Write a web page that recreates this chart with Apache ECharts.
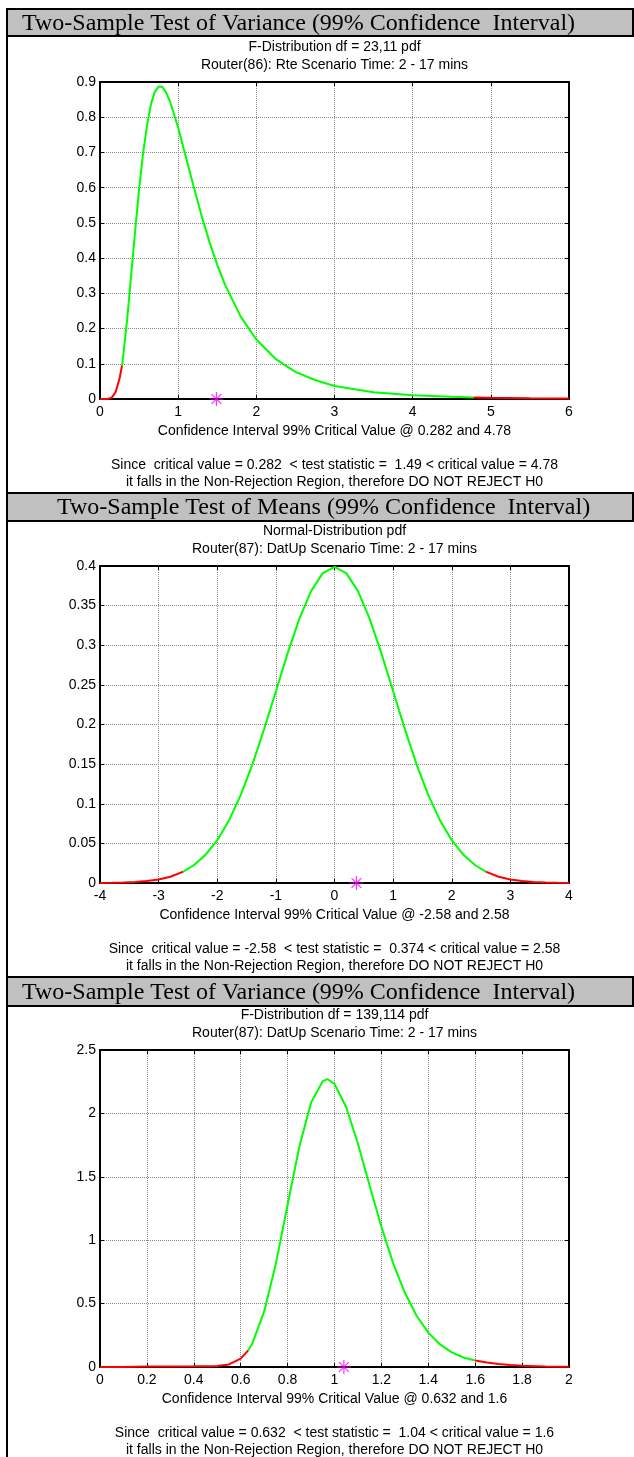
<!DOCTYPE html>
<html>
<head>
<meta charset="utf-8">
<script src="https://cdn.jsdelivr.net/npm/echarts@6/dist/echarts.min.js"></script>
<style>
  html, body { margin: 0; padding: 0; background: #ffffff; }
  #chart { width: 634px; height: 1457px; }
</style>
</head>
<body>
<div id="chart"></div>
<script>
// ---- Texts ----
const headTitles = [
  'Two-Sample Test of Variance (99% Confidence  Interval)',
  'Two-Sample Test of Means (99% Confidence  Interval)',
  'Two-Sample Test of Variance (99% Confidence  Interval)'
];
const subTitles1 = ['F-Distribution df = 23,11 pdf', 'Router(86): Rte Scenario Time: 2 - 17 mins'];
const subTitles2 = ['Normal-Distribution pdf', 'Router(87): DatUp Scenario Time: 2 - 17 mins'];
const subTitles3 = ['F-Distribution df = 139,114 pdf', 'Router(87): DatUp Scenario Time: 2 - 17 mins'];
const xLabels = [
  'Confidence Interval 99% Critical Value @ 0.282 and 4.78',
  'Confidence Interval 99% Critical Value @ -2.58 and 2.58',
  'Confidence Interval 99% Critical Value @ 0.632 and 1.6'
];
const verdict1 = ['Since  critical value = 0.282  < test statistic =  1.49 < critical value = 4.78',
                  'it falls in the Non-Rejection Region, therefore DO NOT REJECT H0'];
const verdict2 = ['Since  critical value = -2.58  < test statistic =  0.374 < critical value = 2.58',
                  'it falls in the Non-Rejection Region, therefore DO NOT REJECT H0'];
const verdict3 = ['Since  critical value = 0.632  < test statistic =  1.04 < critical value = 1.6',
                  'it falls in the Non-Rejection Region, therefore DO NOT REJECT H0'];

// ---- Panel 1: F pdf, df = 23,11 ----
const fX1 = [0, 0.1, 0.15, 0.2, 0.25, 0.282, 0.3, 0.35, 0.4, 0.45, 0.5, 0.55, 0.6, 0.65, 0.7, 0.75,
             0.8, 0.85, 0.9, 1.0, 1.1, 1.2, 1.3, 1.4, 1.5, 1.6, 1.8, 2.0, 2.25, 2.5, 2.75, 3.0, 3.5,
             4.0, 4.5, 4.78, 5.0, 5.5, 6.0];
const fY1 = [0, 0.0002, 0.004, 0.02, 0.058, 0.095, 0.128, 0.232, 0.355, 0.478, 0.595, 0.695, 0.775,
             0.835, 0.872, 0.887, 0.886, 0.868, 0.842, 0.77, 0.686, 0.602, 0.52, 0.446, 0.381, 0.324,
             0.234, 0.169, 0.113, 0.077, 0.054, 0.037, 0.019, 0.0104, 0.0062, 0.0046, 0.0036, 0.0023, 0.0015];
const crit1 = [0.282, 4.78];
const stat1 = 1.49;

// ---- Panel 2: normal pdf ----
const nX2 = [-4, -3.8, -3.6, -3.4, -3.2, -3, -2.8, -2.58, -2.4, -2.2, -2, -1.8, -1.6, -1.4, -1.2, -1,
             -0.8, -0.6, -0.4, -0.2, 0, 0.2, 0.4, 0.6, 0.8, 1, 1.2, 1.4, 1.6, 1.8, 2, 2.2, 2.4, 2.58,
             2.8, 3, 3.2, 3.4, 3.6, 3.8, 4];
const nY2 = [0.0001, 0.0003, 0.0006, 0.0012, 0.0024, 0.0044, 0.0079, 0.0143, 0.0224, 0.0355, 0.054,
             0.079, 0.1109, 0.1497, 0.1942, 0.242, 0.2897, 0.3332, 0.3683, 0.391, 0.3989, 0.391, 0.3683,
             0.3332, 0.2897, 0.242, 0.1942, 0.1497, 0.1109, 0.079, 0.054, 0.0355, 0.0224, 0.0143,
             0.0079, 0.0044, 0.0024, 0.0012, 0.0006, 0.0003, 0.0001];
const crit2 = [-2.58, 2.58];
const stat2 = 0.374;

// ---- Panel 3: F pdf, df = 139,114 ----
const fX3 = [0, 0.1, 0.2, 0.3, 0.4, 0.45, 0.5, 0.55, 0.6, 0.632, 0.65, 0.7, 0.75, 0.8, 0.85, 0.9, 0.95,
             0.97, 1.0, 1.05, 1.1, 1.15, 1.2, 1.25, 1.3, 1.35, 1.4, 1.45, 1.5, 1.55, 1.6, 1.65, 1.7,
             1.75, 1.8, 1.9, 2.0];
const fY3 = [0, 0, 0.003, 0.004, 0.005, 0.006, 0.008, 0.02, 0.066, 0.131, 0.188, 0.436, 0.815, 1.28,
             1.737, 2.085, 2.255, 2.27, 2.232, 2.048, 1.761, 1.43, 1.106, 0.819, 0.585, 0.404, 0.271,
             0.178, 0.115, 0.075, 0.052, 0.036, 0.024, 0.015, 0.009, 0.004, 0.002];
const crit3 = [0.632, 1.6];
const stat3 = 1.04;

// axis ranges: [min, max, step]
const xRange = [[0, 6, 1], [-4, 4, 1], [0, 2, 0.2]];
const yRange = [[0, 0.9, 0.1], [0, 0.4, 0.05], [0, 2.5, 0.5]];

const SANS = '"Liberation Sans", Arial, Helvetica, sans-serif';
const SERIF = '"Liberation Serif", "Times New Roman", serif';
const GREEN = '#00ff00', RED = '#ff0000', MAGENTA = '#ff00ff';

// layout
const panelTop = [9, 493, 977];
const headH = [27, 28, 29];
const headX = [22, 57, 22];
const plotLeft = 100, plotW = 469, plotOffset = 73, plotH = 317;
const plotCx = plotLeft + plotW / 2;

const panels = [
  { x: fX1, y: fY1, crit: crit1, stat: stat1, sub: subTitles1, verdict: verdict1 },
  { x: nX2, y: nY2, crit: crit2, stat: stat2, sub: subTitles2, verdict: verdict2 },
  { x: fX3, y: fY3, crit: crit3, stat: stat3, sub: subTitles3, verdict: verdict3 }
];

function pairs(xs, ys, keep) {
  const out = [];
  for (let i = 0; i < xs.length; i++) if (keep(xs[i])) out.push([xs[i], ys[i]]);
  return out;
}

const grids = [], xAxes = [], yAxes = [], series = [], graphics = [];

// left frame line of the sheet
graphics.push({ type: 'line', shape: { x1: 7, y1: 9, x2: 7, y2: 1457 },
  style: { stroke: '#000', lineWidth: 2 }, z: 10 });

panels.forEach((p, i) => {
  const H = panelTop[i];
  const top = H + plotOffset;
  const zeroY = top + plotH;
  grids.push({ left: plotLeft, top: top, width: plotW, height: plotH, containLabel: false });

  const [xmin, xmax, xint] = xRange[i];
  const [ymin, ymax, yint] = yRange[i];
  const lineStyle = { color: '#000', width: 2 };
  const tick = { show: true, inside: true, length: 4, lineStyle: { color: '#000', width: 1 } };
  const grid = { show: true, lineStyle: { color: '#8a8a8a', type: 'dotted', width: 1 } };
  const lbl = { color: '#000', fontSize: 14, fontFamily: SANS };

  xAxes.push({ gridIndex: i, type: 'value', min: xmin, max: xmax, interval: xint, position: 'bottom',
    axisLine: { show: true, onZero: false, lineStyle }, axisTick: tick,
    axisLabel: Object.assign({ margin: 6 }, lbl), splitLine: grid });
  xAxes.push({ gridIndex: i, type: 'value', min: xmin, max: xmax, interval: xint, position: 'top',
    axisLine: { show: true, onZero: false, lineStyle }, axisTick: tick,
    axisLabel: { show: false }, splitLine: { show: false } });
  yAxes.push({ gridIndex: i, type: 'value', min: ymin, max: ymax, interval: yint, position: 'left',
    axisLine: { show: true, onZero: false, lineStyle }, axisTick: tick,
    axisLabel: Object.assign({ margin: 4 }, lbl), splitLine: grid });
  yAxes.push({ gridIndex: i, type: 'value', min: ymin, max: ymax, interval: yint, position: 'right',
    axisLine: { show: true, onZero: false, lineStyle }, axisTick: tick,
    axisLabel: { show: false }, splitLine: { show: false } });

  const xi = i * 2, yi = i * 2;
  const [lo, hi] = p.crit;
  const seg = (data, color) => ({
    type: 'line', xAxisIndex: xi, yAxisIndex: yi, data, showSymbol: false, smooth: false,
    lineStyle: { color, width: 2 }, itemStyle: { color }, silent: true, animation: false, z: 3
  });
  series.push(seg(pairs(p.x, p.y, v => v <= lo), RED));
  series.push(seg(pairs(p.x, p.y, v => v >= lo && v <= hi), GREEN));
  series.push(seg(pairs(p.x, p.y, v => v >= hi), RED));
  // test statistic marker
  series.push({
    type: 'scatter', xAxisIndex: xi, yAxisIndex: yi, data: [[p.stat, 0]], clip: false,
    symbol: 'path://M6,0L6,12M0,6L12,6M1.8,1.8L10.2,10.2M1.8,10.2L10.2,1.8',
    symbolSize: 14, itemStyle: { color: 'rgba(0,0,0,0)', borderColor: MAGENTA, borderWidth: 1.2 },
    silent: true, animation: false, z: 4
  });

  // header band
  graphics.push({ type: 'rect', shape: { x: 7, y: H, width: 626, height: headH[i] },
    style: { fill: '#c0c0c0', stroke: '#000', lineWidth: 2 }, z: 5 });
  graphics.push({ type: 'text', x: headX[i], y: H + headH[i] / 2 + 1,
    style: { text: headTitles[i], font: '24px ' + SERIF, fill: '#000', align: 'left', verticalAlign: 'middle' }, z: 6 });

  // titles and notes
  const addText = (t, y) => graphics.push({ type: 'text', x: plotCx, y,
    style: { text: t, font: '14px ' + SANS, fill: '#000', align: 'center', verticalAlign: 'middle' }, z: 6 });
  addText(p.sub[0], H + 38);
  addText(p.sub[1], H + 56);
  addText(xLabels[i], zeroY + 32);
  addText(p.verdict[0], zeroY + 66);
  addText(p.verdict[1], zeroY + 83);
});

const chart = echarts.init(document.getElementById('chart'), null, { renderer: 'canvas' });
chart.setOption({
  animation: false,
  backgroundColor: '#ffffff',
  grid: grids,
  xAxis: xAxes,
  yAxis: yAxes,
  series: series,
  graphic: graphics
});
</script>
</body>
</html>
